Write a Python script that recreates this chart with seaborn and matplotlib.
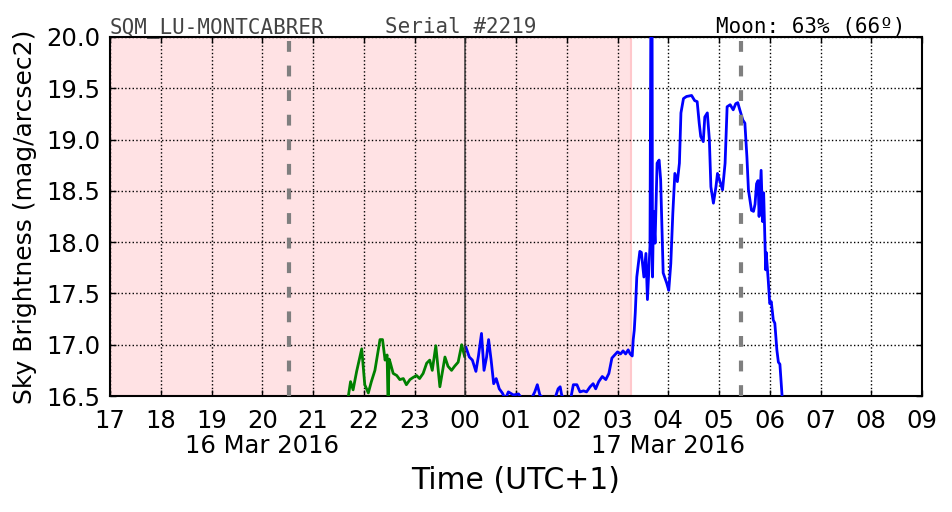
import matplotlib
matplotlib.use("Agg")
import matplotlib.pyplot as plt
import matplotlib.transforms as mtransforms
import numpy as np
import pandas as pd
import seaborn as sns

# ---------------- data (hours after 16 Mar 2016 00:00, UTC+1) ----------------
green_hours = [21.68, 21.70, 21.74, 21.79, 21.86, 21.96, 22.02, 22.09, 22.15, 22.22,
               22.32, 22.37, 22.42, 22.46, 22.48, 22.50, 22.52, 22.58, 22.65, 22.71,
               22.78, 22.84, 22.91, 22.97, 23.04, 23.10, 23.17, 23.24, 23.30, 23.35,
               23.42, 23.50, 23.60, 23.66, 23.73, 23.79, 23.86, 23.93, 23.99]
green_mag = [16.45, 16.51, 16.64, 16.56, 16.74, 16.96, 16.61, 16.53, 16.64, 16.75,
             17.05, 17.05, 16.85, 16.90, 16.40, 16.86, 16.83, 16.72, 16.70, 16.66,
             16.67, 16.61, 16.66, 16.68, 16.70, 16.67, 16.72, 16.82, 16.85, 16.75,
             16.99, 16.59, 16.88, 16.79, 16.75, 16.79, 16.83, 17.00, 16.88]

blue_hours = [24.01, 24.08, 24.14, 24.21, 24.26, 24.32, 24.37, 24.42, 24.46, 24.51,
              24.56, 24.61, 24.67, 24.73, 24.79, 24.85, 24.95, 25.05, 25.15, 25.28,
              25.37, 25.42, 25.47, 25.60, 25.75, 25.83, 25.87, 25.90, 25.98, 26.08,
              26.13, 26.20, 26.26, 26.33, 26.39, 26.46, 26.52, 26.57, 26.63, 26.70,
              26.77, 26.83, 26.89, 27.00, 27.06, 27.11, 27.16, 27.21, 27.25, 27.29,
              27.31, 27.33, 27.35, 27.38, 27.44, 27.47, 27.52, 27.56, 27.59, 27.64,
              27.66, 27.68, 27.69, 27.71, 27.74, 27.78, 27.82, 27.85, 27.90, 27.97,
              28.01, 28.05, 28.09, 28.13, 28.18, 28.22, 28.25, 28.30, 28.36, 28.46,
              28.52, 28.57, 28.61, 28.64, 28.69, 28.72, 28.77, 28.81, 28.84, 28.89,
              28.94, 28.97, 29.02, 29.07, 29.12, 29.16, 29.22, 29.28, 29.33, 29.37,
              29.41, 29.47, 29.51, 29.55, 29.58, 29.64, 29.68, 29.71, 29.74, 29.77,
              29.79, 29.83, 29.86, 29.88, 29.92, 29.93, 29.97, 30.00, 30.03, 30.07,
              30.10, 30.14, 30.17, 30.20, 30.25]
blue_mag = [16.98, 16.88, 16.85, 16.74, 16.89, 17.11, 16.75, 16.88, 17.05, 16.85,
            16.62, 16.67, 16.57, 16.53, 16.47, 16.54, 16.51, 16.52, 16.45, 16.45,
            16.54, 16.61, 16.51, 16.45, 16.45, 16.57, 16.59, 16.51, 16.45, 16.48,
            16.61, 16.61, 16.54, 16.55, 16.54, 16.59, 16.62, 16.57, 16.64, 16.69,
            16.66, 16.72, 16.87, 16.93, 16.91, 16.94, 16.91, 16.95, 16.91, 16.89,
            17.05, 17.14, 17.31, 17.66, 17.91, 17.90, 17.66, 17.89, 17.44, 17.96,
            20.60, 20.60, 17.66, 18.30, 17.99, 18.77, 18.80, 18.61, 17.70, 17.60,
            17.53, 17.79, 18.28, 18.67, 18.59, 18.77, 19.26, 19.40, 19.42, 19.43,
            19.38, 19.37, 19.16, 19.03, 18.98, 19.22, 19.26, 19.00, 18.54, 18.38,
            18.54, 18.67, 18.59, 18.51, 18.77, 19.32, 19.34, 19.29, 19.35, 19.36,
            19.29, 19.19, 19.16, 18.83, 18.51, 18.31, 18.30, 18.37, 18.57, 18.60,
            18.25, 18.70, 18.20, 18.48, 17.73, 17.90, 17.63, 17.40, 17.42, 17.24,
            17.21, 16.95, 16.83, 16.81, 16.45]

hour_ticks = list(range(17, 34))
hour_labels = ["17", "18", "19", "20", "21", "22", "23", "00", "01", "02",
               "03", "04", "05", "06", "07", "08", "09"]
date_positions = [20.0, 28.0]
date_labels = ["16 Mar 2016", "17 Mar 2016"]
y_ticks = [16.5, 17.0, 17.5, 18.0, 18.5, 19.0, 19.5, 20.0]
night_span = [17.0, 27.27]
moon_lines = [20.53, 29.43]
midnight = 24.0

header_left = "SQM_LU-MONTCABRER"
header_mid = "Serial #2219"
header_right = "Moon: 63% (66º)"

# ---------------- plot ----------------
sns.set_style("white")
plt.rcParams["font.family"] = ["DejaVu Sans"]
plt.rcParams["text.color"] = "black"
plt.rcParams["axes.labelcolor"] = "black"
plt.rcParams["xtick.color"] = "black"
plt.rcParams["ytick.color"] = "black"

W, H = 952, 512
fig = plt.figure(figsize=(W / 100, H / 100), dpi=100)
ax = fig.add_axes([110 / W, 1 - 396 / H, 812 / W, 359 / H])

ax.axvspan(night_span[0], night_span[1], facecolor="#ffe2e4", edgecolor="#ffc8cc",
           lw=1.5, zorder=0)

df_g = pd.DataFrame({"t": green_hours, "m": green_mag})
df_b = pd.DataFrame({"t": blue_hours, "m": blue_mag})
sns.lineplot(data=df_g, x="t", y="m", color="green", lw=2, ax=ax,
             estimator=None, sort=False, zorder=3)
sns.lineplot(data=df_b, x="t", y="m", color="blue", lw=2, ax=ax,
             estimator=None, sort=False, zorder=3)

for xm in moon_lines:
    ax.axvline(xm, color="#7f7f7f", lw=3, dashes=(2.6, 3.3), zorder=4)
ax.axvline(midnight, color="#333333", lw=1.3, alpha=0.8, zorder=4)

ax.set_xlim(17, 33)
ax.set_ylim(16.5, 20.0)
ax.set_xticks(hour_ticks)
ax.set_xticklabels(hour_labels)
ax.set_yticks(y_ticks)
ax.set_yticklabels([f"{v:.1f}" for v in y_ticks])
ax.tick_params(axis="both", which="major", labelsize=17.5, direction="in",
               length=4, width=1, color="k", labelcolor="k", top=True, right=True,
               bottom=True, left=True, pad=7)
ax.tick_params(axis="x", pad=9)
ax.grid(True, which="major", ls=":", color="k", lw=1)
for s in ax.spines.values():
    s.set_color("k")
    s.set_linewidth(1.5)

ax.set_xlabel("Time (UTC+1)", fontsize=21.5, color="k")
ax.set_ylabel("Sky Brightness (mag/arcsec2)", fontsize=18, color="k")
ax.xaxis.set_label_coords(0.5, -0.195)
ax.yaxis.set_label_coords(-0.09, 0.5)

trans = mtransforms.blended_transform_factory(ax.transData, ax.transAxes)
for xp, lab in zip(date_positions, date_labels):
    ax.text(xp, -0.139, lab, transform=trans, ha="center", va="center",
            fontsize=17.5, color="k")

mono = dict(family="DejaVu Sans Mono", fontsize=15)
fig.text(110 / W, 1 - 33 / H, header_left, ha="left", va="baseline", color="#444444", **mono)
fig.text(385 / W, 1 - 33 / H, header_mid, ha="left", va="baseline", color="#444444", **mono)
fig.text(905 / W, 1 - 33 / H, header_right, ha="right", va="baseline", color="black", **mono)

fig.savefig("out.png", dpi=100)
